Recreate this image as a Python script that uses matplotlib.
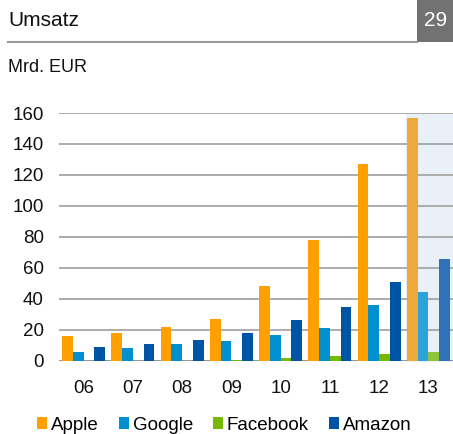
import matplotlib
matplotlib.use("Agg")
import matplotlib.pyplot as plt
from matplotlib.patches import Rectangle, Patch
import numpy as np

plt.rcParams['font.family'] = ['Liberation Sans', 'DejaVu Sans']

years = ["06", "07", "08", "09", "10", "11", "12", "13"]
series_names = ["Apple", "Google", "Facebook", "Amazon"]
apple = [15.8, 18.1, 21.5, 26.9, 48.3, 77.8, 127.2, 157.0]
google = [5.8, 8.4, 10.7, 12.5, 16.6, 20.9, 35.8, 44.4]
facebook = [0.0, 0.0, 0.0, 0.6, 1.7, 2.8, 4.1, 5.2]
amazon = [8.6, 10.7, 13.1, 17.7, 26.0, 34.7, 50.7, 65.3]
yticks = [0, 20, 40, 60, 80, 100, 120, 140, 160]

colors = ["#FFA000", "#0090D0", "#78B800", "#0054A6"]
colors_last = ["#EBAA3A", "#2EA3DA", "#8CC43C", "#2F72BA"]

W, H = 453, 434
fig = plt.figure(figsize=(W / 100, H / 100), dpi=100)

x0, x1 = 59, 453
ytop, ybot = 113, 360.5
ax = fig.add_axes([x0 / W, 1 - ybot / H, (x1 - x0) / W, (ybot - ytop) / H])
ax.set_xlim(-0.5, len(years) - 0.5)
ax.set_ylim(0, 160)

data = [apple, google, facebook, amazon]
bw = 0.218
x = np.arange(len(years))
for i, (vals, c, cl) in enumerate(zip(data, colors, colors_last)):
    cols = [c] * (len(years) - 1) + [cl]
    ax.bar(x + (i - 1.5) * bw, vals, width=bw, color=cols, zorder=3,
           edgecolor='none', label=series_names[i])

ax.add_patch(Rectangle((len(years) - 1 - 0.45, -1.2), 1.0, 161.2,
                       facecolor="#EAF0F8", edgecolor='none', zorder=0,
                       clip_on=False))

for v in yticks:
    ax.axhline(v, color="#A6A6A6" if v else "#8C8C8C", lw=1.3, zorder=1)

for s in ax.spines.values():
    s.set_visible(False)
ax.set_yticks(yticks)
ax.set_yticklabels([str(v) for v in yticks])
ax.set_xticks(x)
ax.set_xticklabels(years)
ax.tick_params(axis='both', length=0, labelsize=13.5, colors="#111111")
ax.tick_params(axis='y', pad=11)
ax.tick_params(axis='x', pad=14)
ax.set_facecolor('none')

# header
fig.text(8 / W, 1 - 21 / H, "Umsatz", fontsize=15, va='center', ha='left', color="#111111")
fig.add_artist(plt.Line2D([8 / W, 417 / W], [1 - 42 / H, 1 - 42 / H], color="#999999", lw=1.5))
fig.add_artist(Rectangle((417 / W, 1 - 42 / H), (W - 417) / W, 42 / H,
                         facecolor="#727272", edgecolor='none', transform=fig.transFigure))
fig.text(436 / W, 1 - 21 / H, "29", fontsize=15, va='center', ha='center', color="white")
fig.text(8 / W, 1 - 67 / H, "Mrd. EUR", fontsize=13, va='center', ha='left', color="#111111")

# legend
handles = [Patch(facecolor=c, edgecolor='none') for c in colors]
fig.legend(handles, series_names, loc='center', bbox_to_anchor=(0.495, 1 - 425 / H),
           ncol=4, frameon=False, fontsize=13.5, handlelength=0.55, handleheight=0.55,
           handletextpad=0.2, columnspacing=1.05, borderaxespad=0)

fig.savefig("out.png", dpi=100)
